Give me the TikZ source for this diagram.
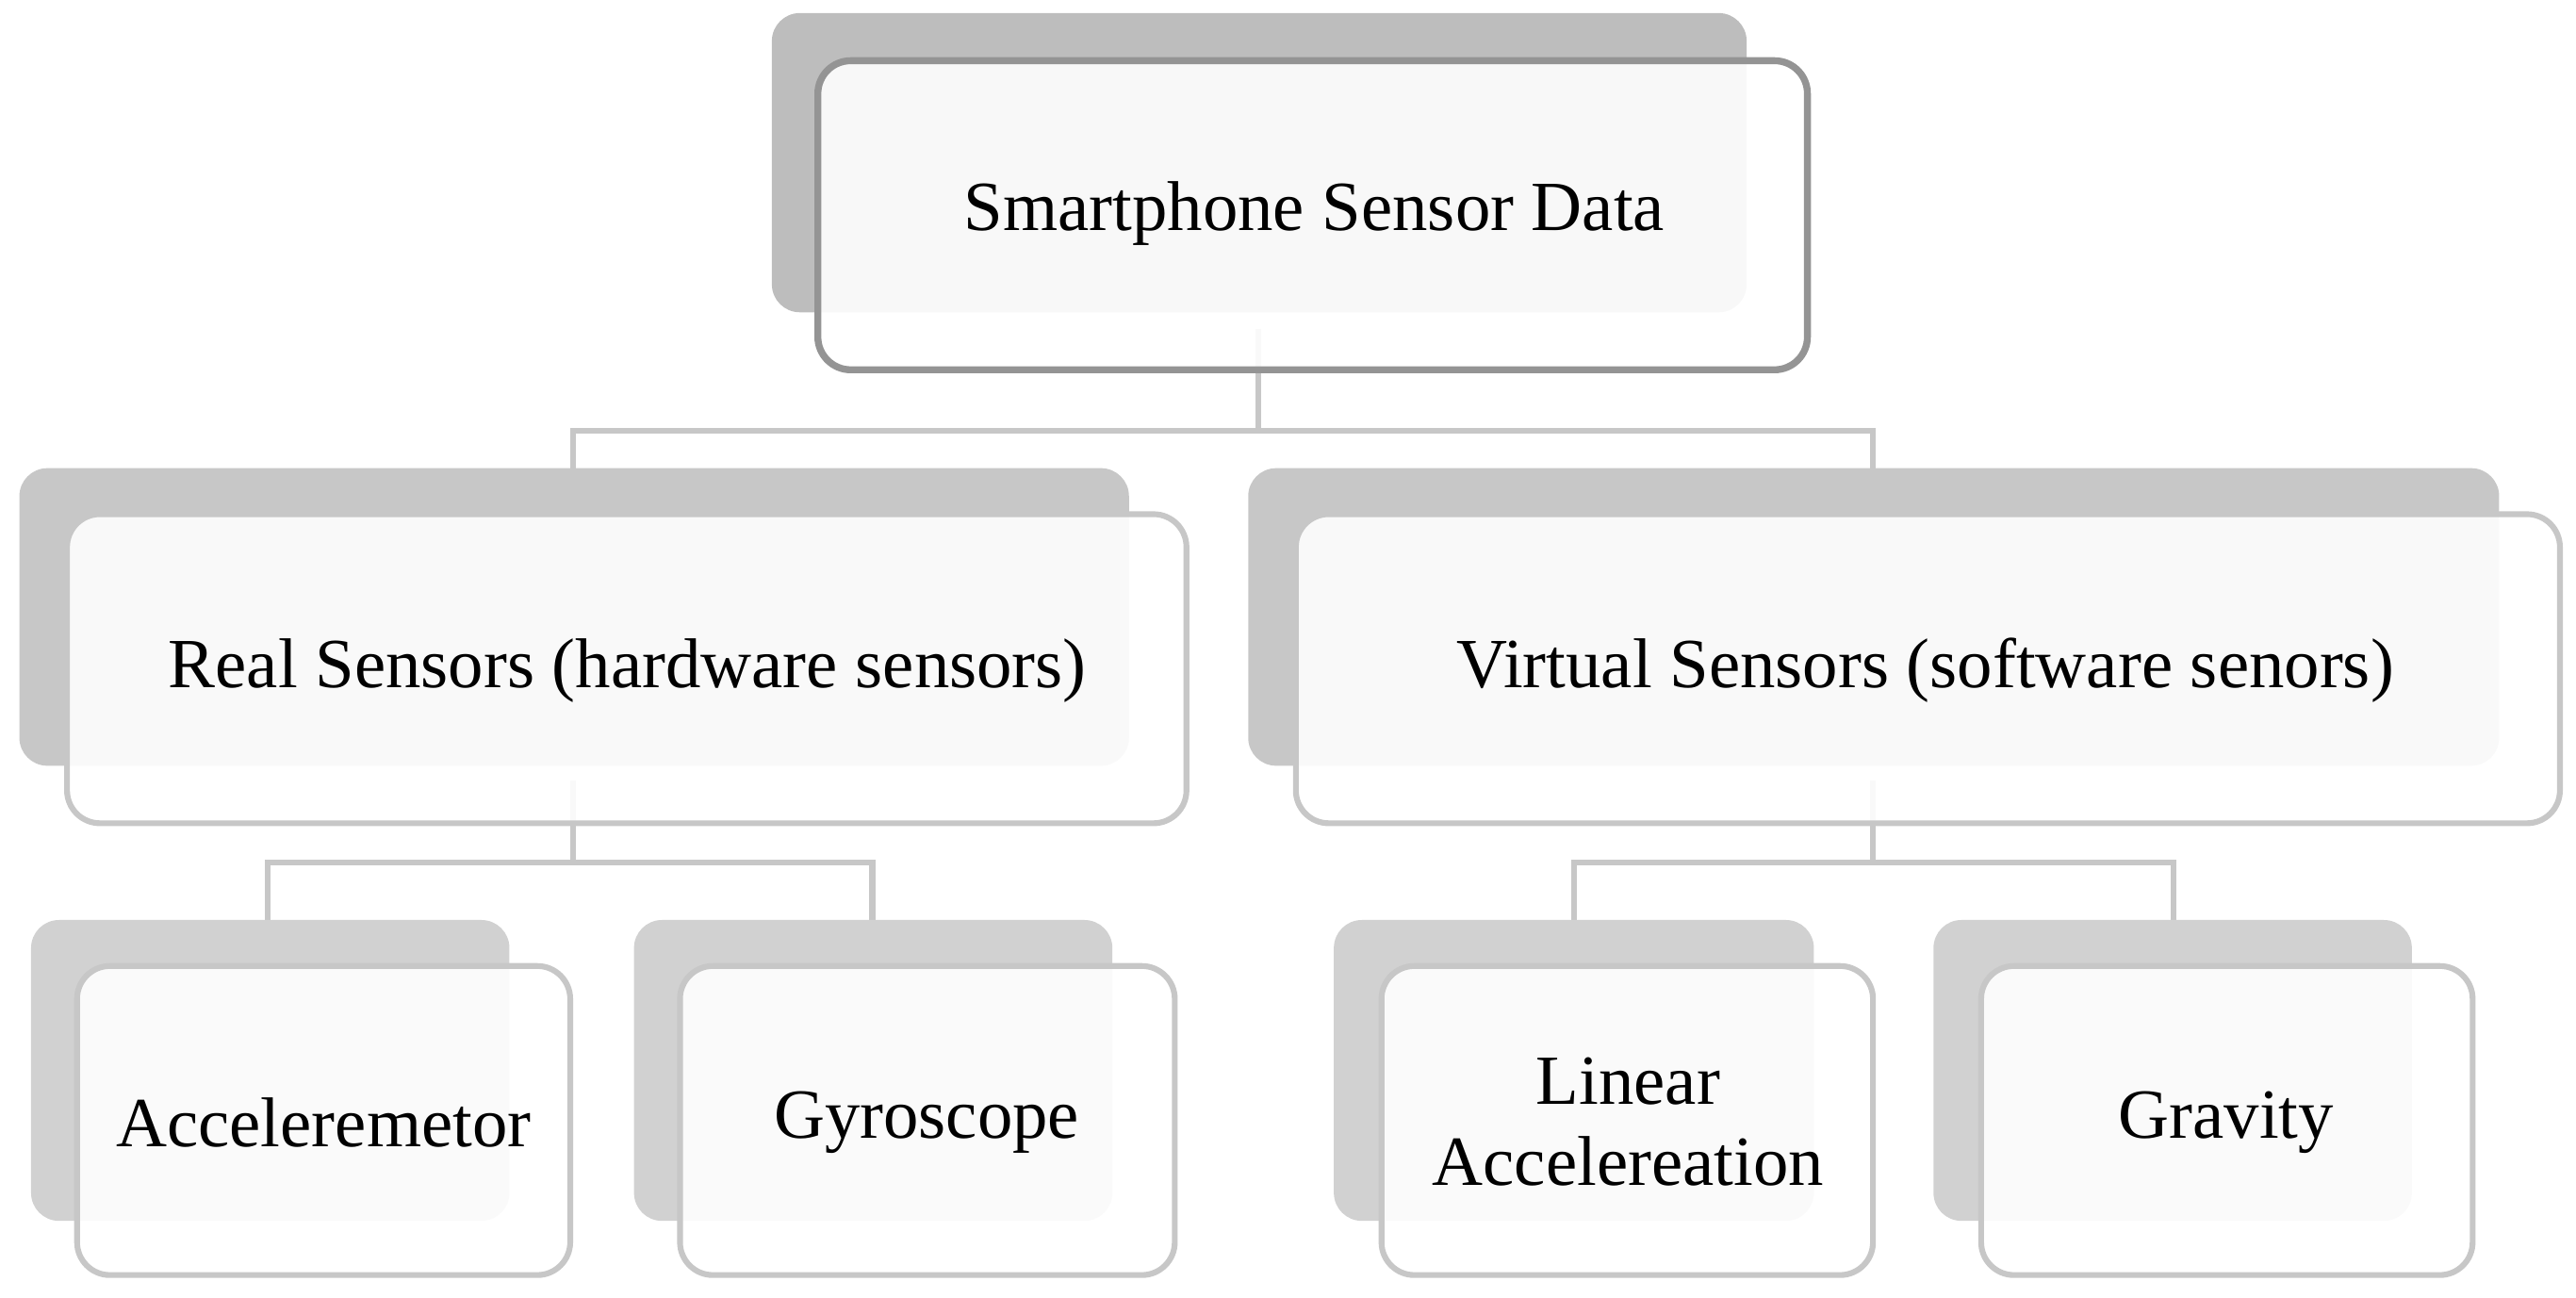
\documentclass[tikz,border=0pt]{standalone}
\usepackage{fontspec}
\setmainfont{Liberation Serif}
\begin{document}
\begin{tikzpicture}[x=0.01cm,y=-0.01cm,
  back/.style={fill=black!26,draw=none,rounded corners=0.17cm,inner sep=0pt},
  front/.style={fill=white,fill opacity=0.9,text opacity=1,draw=black!22,line width=1pt,rounded corners=0.2cm,inner sep=0pt},
  topfront/.style={front,draw=black!42,line width=1.2pt},
  conn/.style={draw=black!22,line width=1pt},
  lbl/.style={font=\fontsize{12.2}{14}\selectfont,align=center}]
\useasboundingbox (0,0) rectangle (1568,790);
% connectors
\coordinate (t0) at (766,200); \coordinate (t1) at (766,262);
\coordinate (tl) at (349,262); \coordinate (tr) at (1140,262);
\coordinate (tl2) at (349,290); \coordinate (tr2) at (1140,290);
\draw[conn] (t0) -- (t1) (tl2) -- (tl) -- (tr) -- (tr2);
\coordinate (l0) at (349,475); \coordinate (l1) at (349,525);
\coordinate (ll) at (163,525); \coordinate (lr) at (531,525);
\coordinate (ll2) at (163,565); \coordinate (lr2) at (531,565);
\draw[conn] (l0) -- (l1) (ll2) -- (ll) -- (lr) -- (lr2);
\coordinate (r0) at (1140,475); \coordinate (r1) at (1140,525);
\coordinate (rl) at (958,525); \coordinate (rr) at (1323,525);
\coordinate (rl2) at (958,565); \coordinate (rr2) at (1323,565);
\draw[conn] (r0) -- (r1) (rl2) -- (rl) -- (rr) -- (rr2);
% back boxes
\node[back,minimum width=5.93cm,minimum height=1.82cm] (topb) at (766.5,99) {};
\node[back,fill=black!22,minimum width=6.75cm,minimum height=1.81cm] (realb) at (349.5,375.5) {};
\node[back,fill=black!22,minimum width=7.61cm,minimum height=1.81cm] (virtb) at (1140.5,375.5) {};
\node[back,fill=black!18,minimum width=2.91cm,minimum height=1.83cm] (accb) at (164.5,651.5) {};
\node[back,fill=black!18,minimum width=2.91cm,minimum height=1.83cm] (gyrb) at (531.5,651.5) {};
\node[back,fill=black!18,minimum width=2.92cm,minimum height=1.83cm] (linb) at (958,651.5) {};
\node[back,fill=black!18,minimum width=2.91cm,minimum height=1.83cm] (grab) at (1322.5,651.5) {};
% front boxes
\node[topfront,minimum width=6.02cm,minimum height=1.88cm] (top) at (799,131) {};
\node[front,minimum width=6.81cm,minimum height=1.88cm] (real) at (381.5,407) {};
\node[front,minimum width=7.69cm,minimum height=1.88cm] (virt) at (1173.5,407) {};
\node[front,minimum width=3.00cm,minimum height=1.88cm] (acc) at (197,682) {};
\node[front,minimum width=3.01cm,minimum height=1.88cm] (gyr) at (564.5,682) {};
\node[front,minimum width=2.99cm,minimum height=1.88cm] (lin) at (990.5,682) {};
\node[front,minimum width=2.99cm,minimum height=1.88cm] (gra) at (1355.5,682) {};
% labels
\node[lbl] (topt) at (800,130) {Smartphone Sensor Data};
\node[lbl] (realt) at (382,408) {Real Sensors (hardware sensors)};
\node[lbl] (virtt) at (1172,408) {Virtual Sensors (software senors)};
\node[lbl] (acct) at (197,683) {Acceleremetor};
\node[lbl] (gyrt) at (564,683) {Gyroscope};
\node[lbl] (lint) at (991,683) {Linear\\Accelereation};
\node[lbl] (grat) at (1355,683) {Gravity};
\end{tikzpicture}
\end{document}
